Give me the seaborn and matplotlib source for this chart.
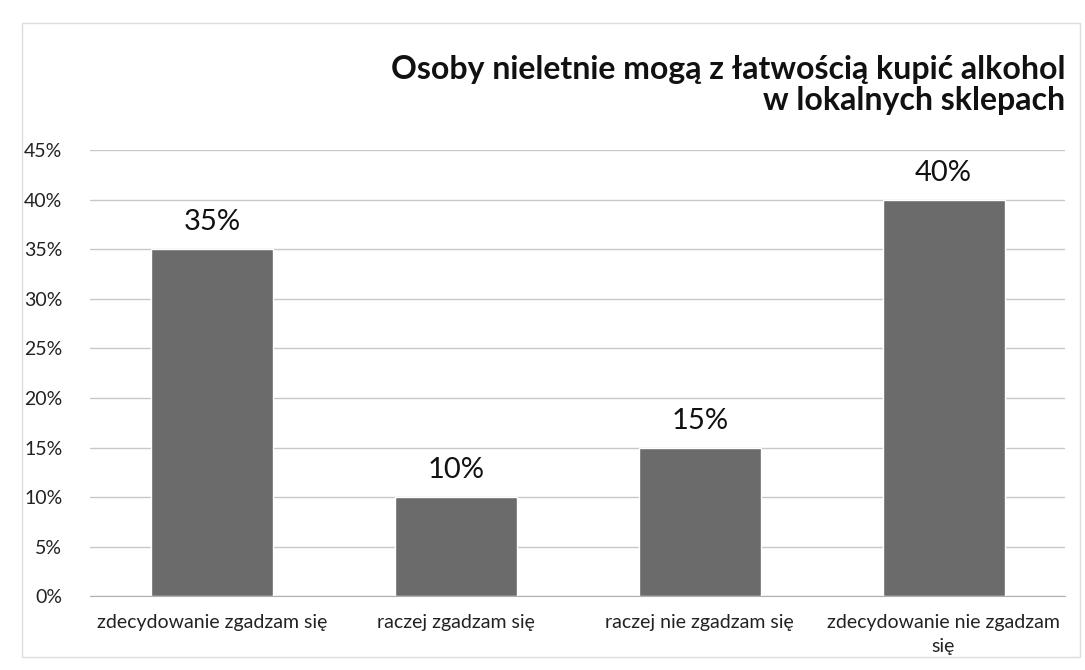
import numpy as np
import pandas as pd
import matplotlib.pyplot as plt
import seaborn as sns
from matplotlib.patches import Rectangle
from matplotlib.ticker import PercentFormatter

categories = ["zdecydowanie zgadzam się", "raczej zgadzam się",
              "raczej nie zgadzam się", "zdecydowanie nie zgadzam\nsię"]
values = [35, 10, 15, 40]
value_labels = ["35%", "10%", "15%", "40%"]
title = "Osoby nieletnie mogą z łatwością kupić alkohol\nw lokalnych sklepach"

df = pd.DataFrame({"category": categories, "value": values})

sns.set_style("white")
plt.rcParams['font.family'] = ['Lato', 'DejaVu Sans']

fig = plt.figure(figsize=(10.85, 6.7), dpi=100)
ax = fig.add_axes([0.083, 0.110, 0.899, 0.666])

# faint chart border like the original Excel frame
fig.patches.append(Rectangle((0.02, 0.02), 0.975, 0.945, transform=fig.transFigure,
                             fill=False, edgecolor='#dcdcdc', linewidth=1))

sns.barplot(data=df, x="category", y="value", color="#6b6b6b", width=0.5,
            saturation=1, ax=ax)

ax.set_ylim(0, 45)
ax.set_yticks(np.arange(0, 46, 5))
ax.yaxis.set_major_formatter(PercentFormatter(decimals=0))
ax.grid(axis='y', color='#c8c8c8', linewidth=1)
ax.set_axisbelow(True)
for side in ['top', 'right', 'left']:
    ax.spines[side].set_visible(False)
ax.spines['bottom'].set_color('#b0b0b0')
ax.set_xlabel("")
ax.set_ylabel("")
ax.tick_params(axis='both', length=0, labelsize=14, colors='#222222')
ax.tick_params(axis='x', pad=13)
ax.tick_params(axis='y', pad=20)
for t in ax.get_xticklabels():
    t.set_linespacing(1.5)

for i, (v, lab) in enumerate(zip(values, value_labels)):
    ax.text(i, v + 1.4, lab, ha='center', va='bottom', fontsize=21, color='#111111')

fig.text(0.982, 0.828, title, ha='right', va='bottom', fontsize=23,
         fontweight='bold', color='#111111', linespacing=1.1)

plt.savefig("out.png", dpi=100)
